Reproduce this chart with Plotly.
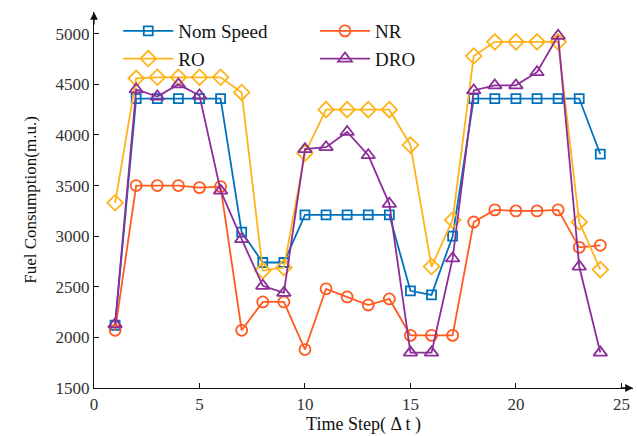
import plotly.graph_objects as go

t = list(range(1, 25))
nom_speed = [2120, 4360, 4360, 4360, 4360, 4360, 3040, 2740, 2740, 3210, 3210, 3210,
             3210, 3210, 2460, 2420, 3000, 4360, 4360, 4360, 4360, 4360, 4360, 3810]
nr = [2070, 3500, 3500, 3500, 3480, 3490, 2070, 2350, 2350, 1880, 2480, 2400,
      2320, 2380, 2020, 2020, 2020, 3140, 3260, 3250, 3250, 3260, 2890, 2910]
ro = [3330, 4560, 4570, 4570, 4570, 4570, 4420, 2660, 2690, 3820, 4250, 4250,
      4250, 4250, 3900, 2700, 3160, 4780, 4920, 4920, 4920, 4920, 3140, 2670]
dro = [2130, 4450, 4380, 4500, 4390, 3450, 2970, 2510, 2440, 3860, 3880, 4030,
       3800, 3320, 1850, 1850, 2780, 4440, 4490, 4490, 4620, 4980, 2700, 1850]

series = [
    ("Nom Speed", nom_speed, "#0072BD", "square-open", 9, "legend"),
    ("NR", nr, "#FF5A1F", "circle-open", 11, "legend2"),
    ("RO", ro, "#FFB31A", "diamond-open", 12, "legend"),
    ("DRO", dro, "#8B2E98", "triangle-up-open", 12, "legend2"),
]

fig = go.Figure()
for name, vals, color, sym, size, leg in series:
    fig.add_trace(go.Scatter(
        x=t, y=vals, name=name, mode="lines+markers", legend=leg,
        line=dict(color=color, width=1.8),
        marker=dict(symbol=sym, size=size, color=color, line=dict(width=1.8, color=color)),
    ))

font = "Liberation Serif, Times New Roman, serif"
legfont = dict(family=font, size=19, color="#111")
fig.update_layout(
    width=637, height=436,
    margin=dict(l=94, r=4, t=12, b=48),
    plot_bgcolor="white", paper_bgcolor="white",
    font=dict(family=font, size=17, color="#222"),
    showlegend=True,
    legend=dict(orientation="v", x=0.045, y=1.0, xanchor="left", yanchor="top",
                bgcolor="rgba(0,0,0,0)", font=legfont, itemwidth=50, tracegroupgap=0),
    legend2=dict(orientation="v", x=0.41, y=1.0, xanchor="left", yanchor="top",
                 bgcolor="rgba(0,0,0,0)", font=legfont, itemwidth=50, tracegroupgap=0),
    xaxis=dict(range=[0, 25.55], tickvals=[0, 5, 10, 15, 20, 25], showgrid=False,
               zeroline=False, showline=True, linecolor="#111", linewidth=1.3,
               ticks="inside", ticklen=5, tickcolor="#111",
               title=dict(text="Time Step( Δ t )", font=dict(size=18, color="#111"), standoff=4),
               tickfont=dict(size=17, color="#333")),
    yaxis=dict(range=[1500, 5215], tickvals=[1500, 2000, 2500, 3000, 3500, 4000, 4500, 5000],
               showgrid=False, zeroline=False, showline=True, linecolor="#111", linewidth=1.3,
               ticks="inside", ticklen=5, tickcolor="#111",
               title=dict(text="Fuel Consumption(m.u.)", font=dict(size=17, color="#111"), standoff=14),
               tickfont=dict(size=17, color="#333")),
)

fig.add_annotation(x=0, y=1, xref="paper", yref="paper", ax=0, ay=14, axref="pixel", ayref="pixel",
                   showarrow=True, arrowhead=2, arrowsize=1.2, arrowwidth=1.3, arrowcolor="#111", text="")
fig.add_annotation(x=1, y=0, xref="paper", yref="paper", ax=-14, ay=0, axref="pixel", ayref="pixel",
                   showarrow=True, arrowhead=2, arrowsize=1.2, arrowwidth=1.3, arrowcolor="#111", text="")

fig.write_html("out.html")
